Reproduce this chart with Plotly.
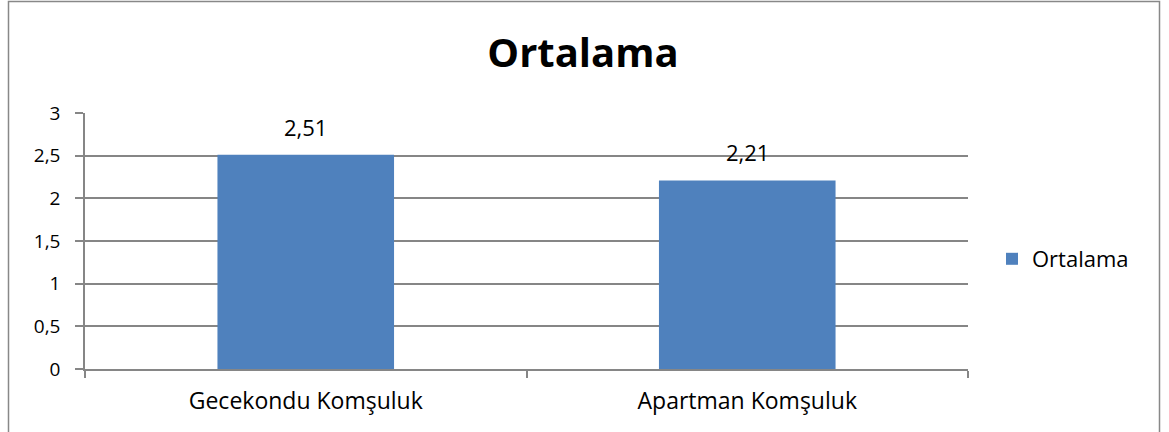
import plotly.graph_objects as go

categories = ["Gecekondu Komşuluk", "Apartman Komşuluk"]
values = [2.51, 2.21]
value_labels = ["2,51", "2,21"]
series_name = "Ortalama"
y_ticks = [0, 0.5, 1, 1.5, 2, 2.5, 3]
y_tick_labels = ["0", "0,5", "1", "1,5", "2", "2,5", "3"]

W, H = 1169, 432
L, R, T, B = 85, 968, 113, 369
pw, ph = R - L, B - T

FONT = "Open Sans, Liberation Sans, sans-serif"

fig = go.Figure()
fig.add_trace(go.Bar(
    x=categories, y=values, name=series_name,
    marker=dict(color="#4F81BD", line=dict(width=0)),
    showlegend=True,
))

for c, v, t in zip(categories, values, value_labels):
    fig.add_annotation(x=c, y=v, text=t, showarrow=False, yanchor="bottom",
                       yshift=11, font=dict(size=22, color="#000", family=FONT))

def px_x(p):
    return (p - L) / pw

def px_y(p):
    return (B - p) / ph

fig.add_shape(type="rect", xref="paper", yref="paper",
              x0=px_x(8.5), x1=px_x(1159.5), y0=px_y(440), y1=px_y(1.5),
              line=dict(color="#888888", width=1.5), fillcolor="rgba(0,0,0,0)",
              layer="below")

fig.update_layout(
    width=W, height=H,
    margin=dict(l=L, r=W - R, t=T, b=H - B, pad=0),
    paper_bgcolor="white", plot_bgcolor="white",
    separators=", ",
    bargap=0.6,
    title=dict(text="<b>Ortalama</b>", x=583 / W, xanchor="center", y=1 - 53 / H, yanchor="middle",
               font=dict(size=40, color="#000", family=FONT)),
    font=dict(family=FONT, size=20, color="#000"),
    legend=dict(x=px_x(992), y=px_y(259), xanchor="left", yanchor="middle",
                font=dict(size=22, color="#000", family=FONT),
                itemwidth=30, bgcolor="rgba(0,0,0,0)"),
    xaxis=dict(showline=True, linecolor="#868686", linewidth=1.5,
               ticks="outside", ticklen=7, tickcolor="#868686", tickwidth=1.5,
               tickson="boundaries", showgrid=False,
               ticklabelstandoff=11, tickfont=dict(size=23, family=FONT, color="#000")),
    yaxis=dict(range=[0, 3], tickvals=y_ticks, ticktext=y_tick_labels,
               showline=True, linecolor="#868686", linewidth=1.5,
               ticks="outside", ticklen=8, tickcolor="#868686", tickwidth=1.5,
               showgrid=True, gridcolor="#868686", gridwidth=1.5,
               zeroline=False, ticklabelstandoff=11,
               tickfont=dict(size=19, family=FONT, color="#000")),
)

fig.write_html("out.html", config={"displayModeBar": False},
               post_script="document.body.style.margin='0px';")
